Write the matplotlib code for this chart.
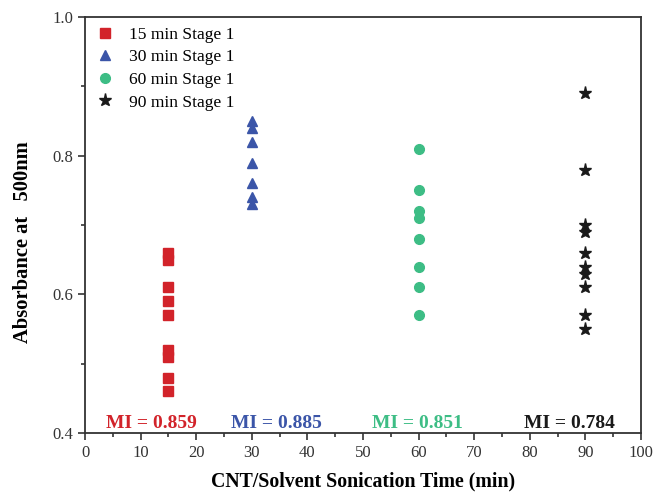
import matplotlib.pyplot as plt
from matplotlib.ticker import MultipleLocator

plt.rcParams['font.family'] = ['Liberation Serif', 'DejaVu Serif']

# Sonication time groups and absorbance readings
t15 = [15] * 9
abs15 = [0.66, 0.65, 0.61, 0.59, 0.57, 0.52, 0.51, 0.48, 0.46]
t30 = [30] * 7
abs30 = [0.85, 0.84, 0.82, 0.79, 0.76, 0.74, 0.73]
t60 = [60] * 8
abs60 = [0.81, 0.75, 0.72, 0.71, 0.68, 0.64, 0.61, 0.57]
t90 = [90] * 10
abs90 = [0.89, 0.78, 0.70, 0.69, 0.66, 0.64, 0.63, 0.61, 0.57, 0.55]

labels = ['15 min Stage 1', '30 min Stage 1', '60 min Stage 1', '90 min Stage 1']
mi_text = ['MI = 0.859', 'MI = 0.885', 'MI = 0.851', 'MI = 0.784']
mi_x = [11.9, 34.4, 59.8, 87.2]

red = '#d2232a'
blue = '#3b55a8'
green = '#3dbd85'
black = '#1a1a1a'

fig = plt.figure(figsize=(6.53, 4.94), dpi=100)
ax = fig.add_axes([0.1302, 0.1235, 0.8515, 0.842])

ax.plot(t15, abs15, 's', color=red, markersize=6.8, label=labels[0], linestyle='none')
ax.plot(t30, abs30, '^', color=blue, markersize=7.5, label=labels[1], linestyle='none')
ax.plot(t60, abs60, 'o', color=green, markersize=7, label=labels[2], linestyle='none')
ax.plot(t90, abs90, '*', color=black, markersize=9.5, label=labels[3], linestyle='none')

for x, txt, c in zip(mi_x, mi_text, [red, blue, green, black]):
    ax.text(x, 0.4135, txt, color=c, fontsize=14, fontweight='bold',
            ha='center', va='center')

ax.set_xlim(0, 100)
ax.set_ylim(0.4, 1.0)
ax.xaxis.set_major_locator(MultipleLocator(10))
ax.xaxis.set_minor_locator(MultipleLocator(5))
ax.yaxis.set_major_locator(MultipleLocator(0.2))
ax.yaxis.set_minor_locator(MultipleLocator(0.1))
ax.tick_params(which='both', direction='out', top=False, right=False,
               labelsize=12, colors='#333333', width=1.2)
ax.tick_params(which='major', length=5)
ax.tick_params(which='minor', length=3)
for s in ax.spines.values():
    s.set_color('#333333')
    s.set_linewidth(1.3)

ax.set_xlabel('CNT/Solvent Sonication Time (min)', fontsize=14.3,
              fontweight='bold', labelpad=8)
ax.set_ylabel('Absorbance at   500nm', fontsize=14.8, fontweight='bold')
ax.yaxis.set_label_coords(-0.093, 0.459)

ax.legend(loc='upper left', frameon=False, fontsize=12.6, handletextpad=0.75,
          labelspacing=0.36, borderaxespad=0.15, handlelength=1.2,
          bbox_to_anchor=(0.0, 1.0))

fig.savefig('out.png', dpi=100)
